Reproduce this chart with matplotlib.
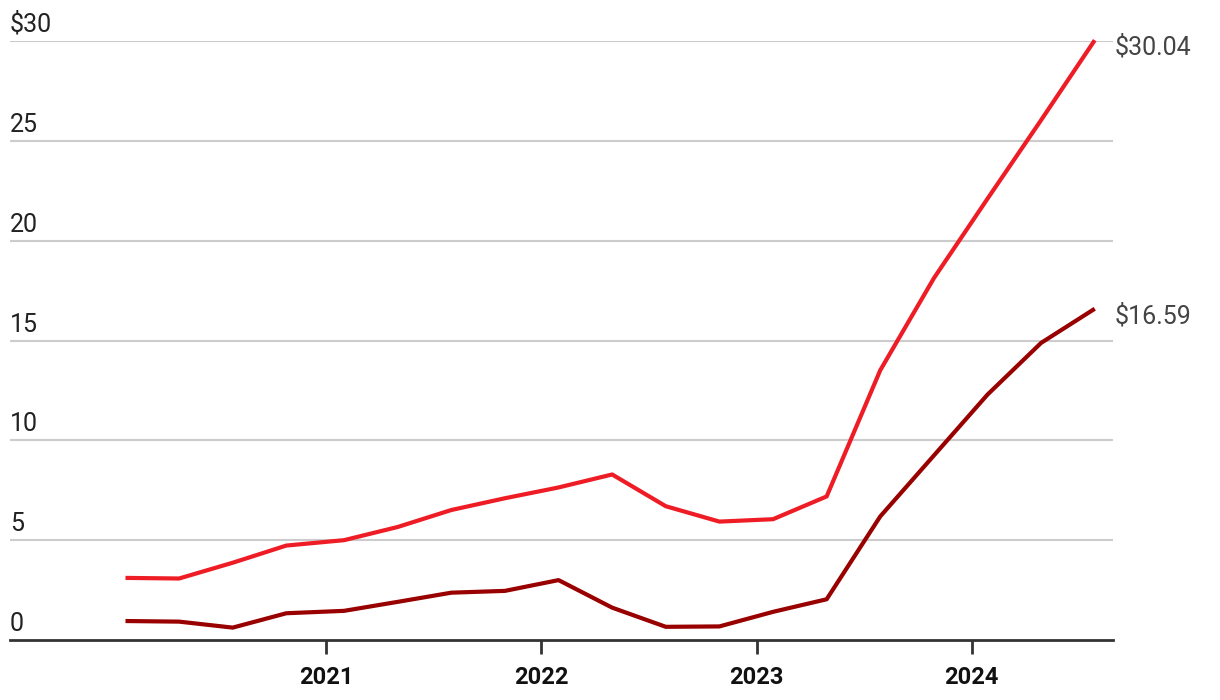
import matplotlib
matplotlib.use("Agg")
import matplotlib.pyplot as plt
import matplotlib.transforms as mtransforms
import pandas as pd

# Quarter-end dates
dates = ["2020-01-26", "2020-04-26", "2020-07-26", "2020-10-25",
         "2021-01-31", "2021-05-02", "2021-08-01", "2021-10-31",
         "2022-01-30", "2022-05-01", "2022-07-31", "2022-10-30",
         "2023-01-29", "2023-04-30", "2023-07-30", "2023-10-29",
         "2024-01-28", "2024-04-28", "2024-07-28"]
revenue = [3.11, 3.08, 3.87, 4.73, 5.00, 5.66, 6.51, 7.10, 7.64, 8.29,
           6.70, 5.93, 6.05, 7.19, 13.51, 18.12, 22.10, 26.04, 30.04]
net_income = [0.95, 0.92, 0.62, 1.34, 1.46, 1.91, 2.37, 2.46, 3.00, 1.62,
              0.66, 0.68, 1.41, 2.04, 6.19, 9.24, 12.29, 14.88, 16.59]
ytick_values = [0, 5, 10, 15, 20, 25, 30]
ytick_labels = ["0", "5", "10", "15", "20", "25", "$30"]
xtick_years = ["2021", "2022", "2023", "2024"]
end_labels = ["$30.04", "$16.59"]

x = pd.to_datetime(dates)

plt.rcParams['font.family'] = ['Roboto', 'DejaVu Sans']

fig = plt.figure(figsize=(12.2, 7), dpi=100)
ax = fig.add_axes([10/1220, 1-640/700, (1113-10)/1220, (640-41)/700])

ax.set_ylim(0, 30)
ax.set_xlim(pd.Timestamp("2019-07-14"), pd.Timestamp("2024-08-28"))

# gridlines
for v in ytick_values[1:]:
    ax.axhline(v, color="#cccccc", lw=1.5, zorder=1)

ax.plot(x, revenue, color="#ee1c25", lw=3, zorder=3, clip_on=False,
        solid_joinstyle="round", solid_capstyle="butt")
ax.plot(x, net_income, color="#990000", lw=3, zorder=3, clip_on=False,
        solid_joinstyle="round", solid_capstyle="butt")

# y labels above the gridlines
trans = mtransforms.blended_transform_factory(ax.transAxes, ax.transData)
offset = mtransforms.offset_copy(trans, fig=fig, x=0, y=4, units="dots")
for v, lab in zip(ytick_values, ytick_labels):
    ax.text(0, v, lab, transform=offset, ha="left", va="bottom",
            fontsize=18, color="#222222")

# end labels
ax.annotate(end_labels[0], xy=(x[-1], revenue[-1]), xytext=(20, -7),
            textcoords="offset pixels", ha="left", va="center",
            fontsize=18, color="#444444", annotation_clip=False)
ax.annotate(end_labels[1], xy=(x[-1], net_income[-1]), xytext=(20, -7),
            textcoords="offset pixels", ha="left", va="center",
            fontsize=18, color="#444444", annotation_clip=False)

# x axis
for s in ["top", "right", "left"]:
    ax.spines[s].set_visible(False)
ax.spines["bottom"].set_color("#333333")
ax.spines["bottom"].set_linewidth(2)
ax.spines["bottom"].set_zorder(4)
ax.set_yticks([])
ax.set_xticks([pd.Timestamp(f"{y}-01-01") for y in xtick_years])
ax.set_xticklabels(xtick_years, fontsize=17, fontweight="bold", color="#111111")
ax.tick_params(axis="x", length=10, width=2, color="#333333", pad=9)

fig.savefig("out.png", dpi=100)
